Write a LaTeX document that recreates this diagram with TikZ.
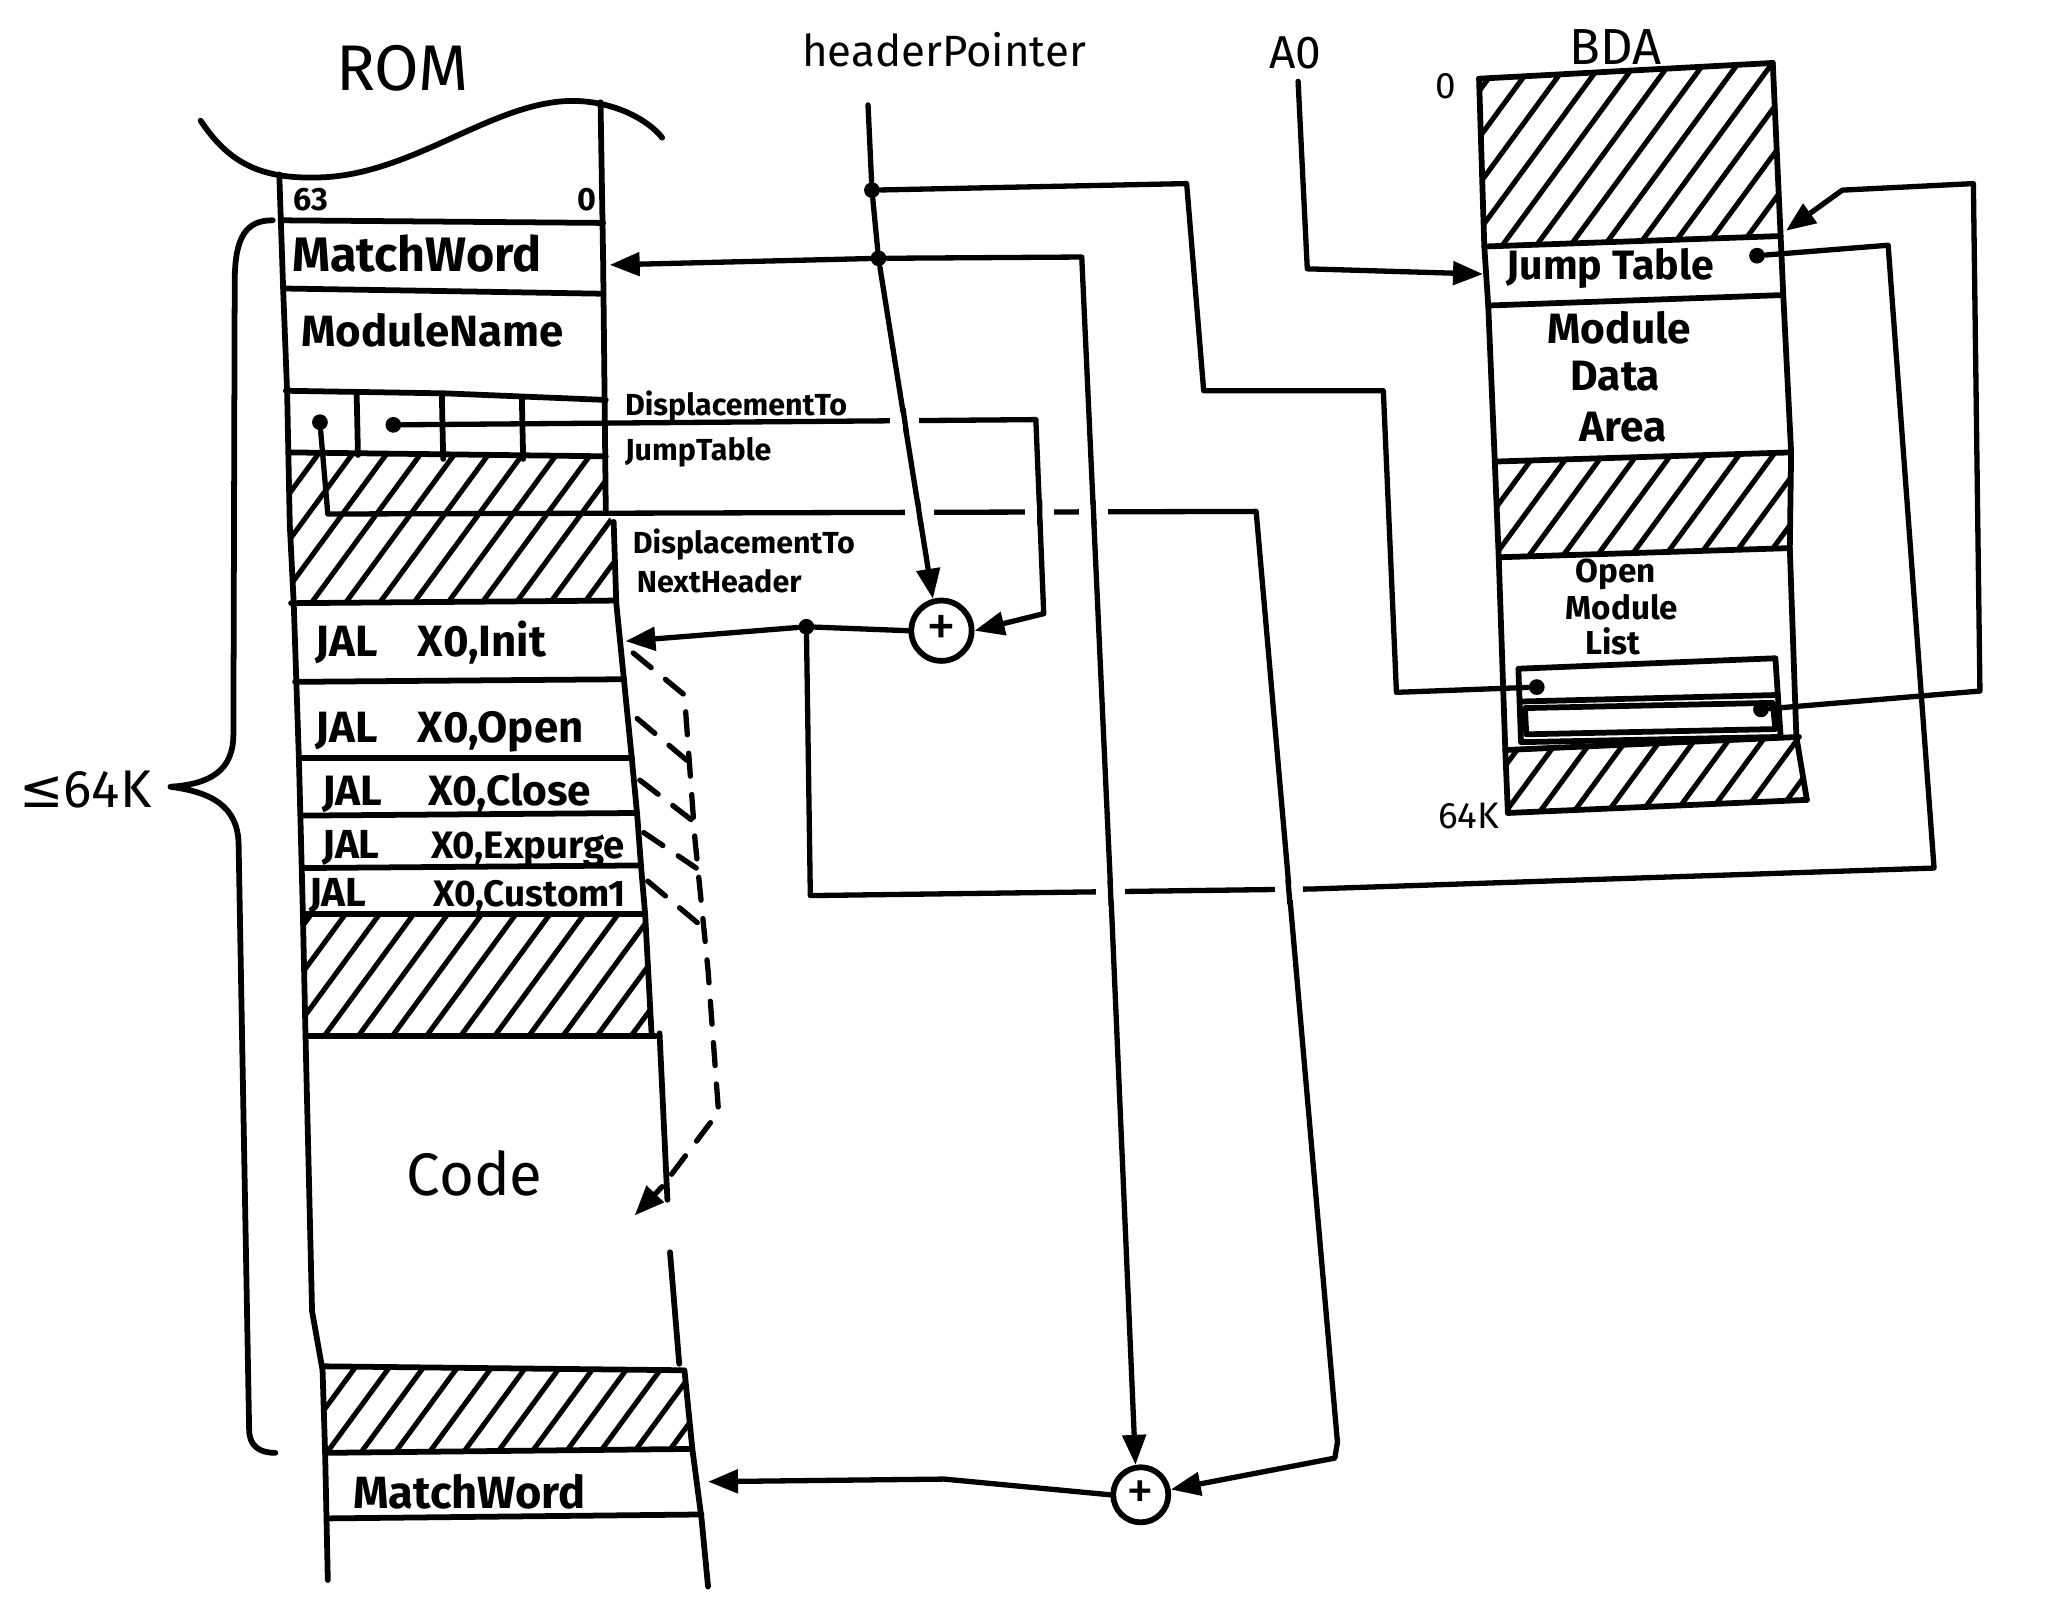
\documentclass[tikz,border=0pt]{standalone}
\usepackage{fontspec}
\setmainfont{Fira Sans}
\newfontfamily\symfont{DejaVu Sans}
\usetikzlibrary{arrows.meta}
\begin{document}
\begin{tikzpicture}[x=0.01cm,y=-0.01cm,
  box/.style={line width=1.25pt, line join=round, line cap=round},
  conn/.style={line width=1.15pt, line join=round, line cap=round},
  arr/.style={conn, -{Triangle[length=6.5pt,width=5pt]}},
  dsh/.style={conn, dash pattern=on 5pt off 4pt},
  hat/.style={line width=1.1pt, line cap=round},
  dotn/.style={circle, fill, inner sep=0pt, minimum size=0.12cm},
  plusn/.style={circle, draw, line width=1.25pt, inner sep=0pt},
  txt/.style={inner sep=0pt},
  fs/.style={font=\fontsize{#1}{#1}\selectfont},
  fb/.style={font=\fontsize{#1}{#1}\selectfont\bfseries},
]
\useasboundingbox (0,0) rectangle (1568,1226);

% ---------------- hatching ----------------
\begin{scope}
\clip (220,345) -- (462,348) -- (462,392) -- (468,398) -- (470,460) -- (222,460) -- cycle;
\foreach \s in {100,126,...,480} \draw[hat] (\s,470) -- ++(110,-150);
\end{scope}
\begin{scope}
\clip (232,697) -- (492,697) -- (497,790) -- (233,790) -- cycle;
\foreach \s in {110,136,...,510} \draw[hat] (\s,800) -- ++(110,-150);
\end{scope}
\begin{scope}
\clip (246,1042) -- (520,1045) -- (528,1105) -- (248,1108) -- cycle;
\foreach \s in {140,166,...,540} \draw[hat] (\s,1115) -- ++(110,-150);
\end{scope}
\begin{scope}
\clip (1128,60) -- (1352,48) -- (1358,180) -- (1132,188) -- cycle;
\foreach \s in {1010,1036,...,1380} \draw[hat] (\s,195) -- ++(110,-150);
\end{scope}
\begin{scope}
\clip (1140,352) -- (1366,345) -- (1365,418) -- (1143,425) -- cycle;
\foreach \s in {1030,1056,...,1380} \draw[hat] (\s,432) -- ++(110,-150);
\end{scope}
\begin{scope}
\clip (1148,572) -- (1372,562) -- (1378,610) -- (1150,620) -- cycle;
\foreach \s in {1040,1066,...,1390} \draw[hat] (\s,625) -- ++(110,-150);
\end{scope}

% ---------------- ROM column ----------------
\draw[box] (153,92) .. controls (175,125) and (200,138) .. (250,135) .. controls (320,130) and (380,75) .. (440,77) .. controls (470,78) and (495,92) .. (505,105);
\draw[box] (213,133) -- (216,222) -- (219,300) -- (221,400) -- (224,460) -- (228,580) -- (231,697) -- (233,790) -- (238,1000) -- (246,1045) -- (248,1110) -- (250,1205);
\draw[box] (458,78) -- (460,200) -- (462,390);
\draw[box] (468,398) -- (470,460) -- (476,520) -- (482,580) -- (486,622) -- (489,662) -- (492,697) -- (497,790);
\draw[box] (503,788) -- (509,915);
\draw[box] (511,955) -- (518,1040);
\draw[box] (522,1045) -- (528,1105) -- (535,1158) -- (540,1210);
\draw[box] (215,168) -- (460,170);
\draw[box] (216,220) -- (340,222) -- (460,224);
\draw[box] (218,298) -- (340,300) -- (462,305);
\draw[box] (220,345) -- (462,348);
\draw[box] (222,460) -- (470,458);
\draw[box] (225,520) -- (476,518);
\draw[box] (228,578) -- (482,578);
\draw[box] (230,622) -- (486,620);
\draw[box] (231,662) -- (489,660);
\draw[box] (232,697) -- (492,697);
\draw[box] (233,790) -- (500,790);
\draw[box] (246,1042) -- (520,1045);
\draw[box] (248,1108) -- (528,1105);
\draw[box] (250,1158) -- (535,1155);
\draw[box] (272,300) -- (273,347);
\draw[box] (337,302) -- (338,350);
\draw[box] (398,304) -- (399,350);

% brace
\draw[box] (208,168) .. controls (188,168) and (179,180) .. (179,215) -- (178,560) .. controls (178,588) and (160,598) .. (130,600) .. controls (160,604) and (182,614) .. (182,645) -- (190,1090) .. controls (190,1103) and (198,1108) .. (210,1108);

% ---------------- BDA column ----------------
\draw[box] (1128,60) -- (1132,188) -- (1135,233) -- (1140,352) -- (1143,425) -- (1148,572) -- (1150,620);
\draw[box] (1352,48) -- (1358,180) -- (1360,225) -- (1366,345) -- (1365,418) -- (1370,562) -- (1378,610);
\draw[box] (1128,60) -- (1352,48);
\draw[box] (1132,188) -- (1358,180);
\draw[box] (1135,233) -- (1360,225);
\draw[box] (1140,352) -- (1366,345);
\draw[box] (1143,425) -- (1365,418);
\draw[box] (1148,572) -- (1372,562);
\draw[box] (1150,620) -- (1378,610);
\draw[box] (1158,510) -- (1354,502) -- (1358,562) -- (1160,566) -- cycle;
\draw[box] (1160,535) -- (1356,530);
\draw[box] (1163,540) -- (1352,536) -- (1354,556) -- (1164,560) -- cycle;

% ---------------- texts ----------------
\node[txt,fs=14] (rom) at (307,52) {ROM};
\node[txt,fs=9.5] (hptext) at (720,38) {headerPointer};
\node[txt,fs=10] (a0) at (988,40) {A0};
\node[txt,fs=11] (bda) at (1232,36) {BDA};
\node[txt,fs=8] (bda0) at (1103,66) {0};
\node[txt,fs=8] (bda64) at (1120,622) {64K};
\node[txt,fs=11.5] (le64) at (65,602) {{\symfont ≤}64K};
\node[txt,fb=7] (b63) at (237,152) {63};
\node[txt,fb=7] (b0) at (448,152) {0};
\node[txt,fb=10.5] (mw1) at (318,193) {MatchWord};
\node[txt,fb=9.5] (mn) at (330,252) {ModuleName};
\node[txt,fb=6.6,anchor=west] (dtj1) at (476,310) {DisplacementTo};
\node[txt,fb=6.6,anchor=west] (dtj2) at (476,345) {JumpTable};
\node[txt,fb=6.6,anchor=west] (dnh1) at (482,415) {DisplacementTo};
\node[txt,fb=6.6,anchor=west] (dnh2) at (485,443) {NextHeader};
\node[txt,fb=9.5,anchor=base west] (j1a) at (240,501) {JAL};
\node[txt,fb=9.5,anchor=base west] (j1b) at (318,501) {X0,Init};
\node[txt,fb=9.5,anchor=base west] (j2a) at (240,566) {JAL};
\node[txt,fb=9.5,anchor=base west] (j2b) at (318,566) {X0,Open};
\node[txt,fb=9.2,anchor=base west] (j3a) at (245,614) {JAL};
\node[txt,fb=9.2,anchor=base west] (j3b) at (326,614) {X0,Close};
\node[txt,fb=8.8,anchor=base west] (j4a) at (245,655) {JAL};
\node[txt,fb=8.3,anchor=base west] (j4b) at (328,655) {X0,Expurge};
\node[txt,fb=8.8,anchor=base west] (j5a) at (235,691) {JAL};
\node[txt,fb=8,anchor=base west] (j5b) at (330,691) {X0,Custom1};
\node[txt,fs=13] (code) at (362,895) {Code};
\node[txt,fb=9.8] (mw2) at (358,1138) {MatchWord};
\node[txt,fb=8.9] (jt) at (1228,205) {Jump Table};
\node[txt,fb=9.2] (mda1) at (1235,250) {Module};
\node[txt,fb=9.2] (mda2) at (1232,287) {Data};
\node[txt,fb=9.2] (mda3) at (1238,326) {Area};
\node[txt,fb=7.2] (oml1) at (1232,438) {Open};
\node[txt,fb=7.2] (oml2) at (1237,463) {Module};
\node[txt,fb=7.2] (oml3) at (1230,489) {List};

% ---------------- connector nodes ----------------
\coordinate (hpS) at (662,80);
\node[dotn] (hpD1) at (665,145) {};
\node[dotn] (hpD2) at (670,197) {};
\coordinate (mw1T) at (465,202);
\node[dotn] (djt) at (300,324) {};
\node[dotn] (dnh) at (244,322) {};
\node[plusn, minimum size=0.46cm] (p1) at (718,481) {\fontsize{13}{13}\selectfont +};
\node[plusn, minimum size=0.42cm] (p2) at (870,1140) {\fontsize{12}{12}\selectfont +};
\node[dotn] (pD) at (615,478) {};
\coordinate (jalT) at (477,489);
\node[dotn] (jtD) at (1340,195) {};
\coordinate (jtArr) at (1362,176);
\node[dotn] (omlD1) at (1172,524) {};
\node[dotn] (omlD2) at (1343,541) {};
\coordinate (a0S) at (990,62);
\coordinate (jtL) at (1131,209);
\coordinate (mw2T) at (540,1130);
\coordinate (codeT) at (484,927);

% ---------------- connectors ----------------
\draw[conn] (hpS) -- (hpD1) -- (hpD2);
\draw[arr] (hpD2) -- (p1.105);
\draw[conn] (hpD1) -- (905,140) -- (918,298) -- (1055,298) -- (1065,528) -- (omlD1);
\draw[arr] (hpD2) -- (mw1T);
\draw[arr] (hpD2) -- (825,196) -- (848,700) -- (p2.100);
\draw[arr] (djt) -- (790,320) -- (796,468) -- (p1.east);
\draw[arr] (dnh) -- (250,392) -- (958,390) -- (1020,1100) -- (1018,1112) -- (p2.10);
\draw[arr] (p1.west) -- (pD) -- (jalT);
\draw[conn] (pD) -- (618,683) -- (1000,678) -- (1475,662) -- (1440,187) -- (jtD);
\draw[arr] (omlD2) -- (1510,527) -- (1505,140) -- (1405,145) -- (jtArr);
\draw[arr] (a0S) -- (997,205) -- (jtL);
\draw[arr] (p2.west) -- (720,1128) -- (mw2T);

% dashed
\draw[dsh] (483,498) -- (522,530) -- (530,640) -- (540,740) -- (548,848) -- (505,905);
\draw[arr] (505,905) -- (codeT);
\draw[dsh] (486,548) -- (524,580);
\draw[dsh] (488,595) -- (527,625);
\draw[dsh] (491,635) -- (531,662);
\draw[dsh] (494,672) -- (537,708);

% gaps at crossings
\foreach \x/\y/\d in {690/321/0.16, 701/391/0.16, 793/391/0.01, 834/391/0.05, 847/681/0.05, 983/680/0.09}{
  \fill[white] (\x-11,\y-6) rectangle (\x+11,\y+6);
  \draw[conn] ({\x-8*\d},\y-9) -- ({\x+8*\d},\y+9);
}
\end{tikzpicture}
\end{document}
